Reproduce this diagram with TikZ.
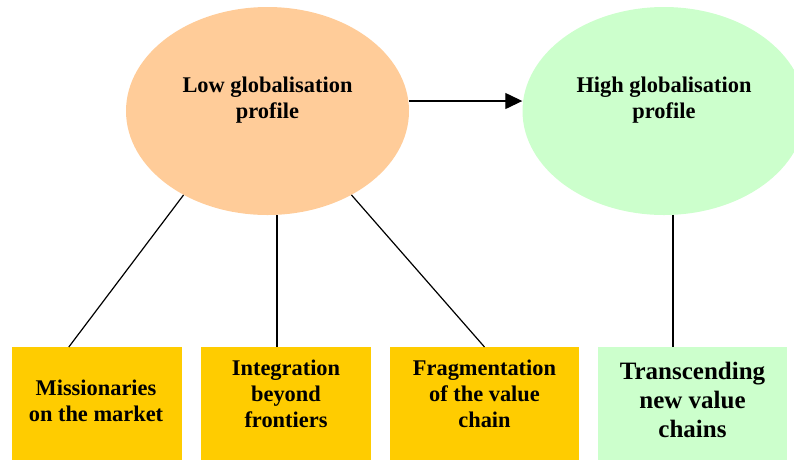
\documentclass[tikz,border=0pt]{standalone}
\usepackage{fontspec}
\setmainfont{Liberation Serif}
\usetikzlibrary{shapes.geometric,arrows.meta}
\definecolor{lowfill}{HTML}{FFCC99}
\definecolor{highfill}{HTML}{CCFFCC}
\definecolor{boxfill}{HTML}{FFCC00}
\begin{document}
\begin{tikzpicture}[x=1pt,y=-1pt,
  profile/.style={ellipse, inner sep=0pt, minimum width=283pt, minimum height=208pt},
  stagebox/.style={rectangle, inner sep=0pt, minimum height=116pt, anchor=north},
  smalltext/.style={font=\fontsize{22.4}{25.8}\selectfont\bfseries, align=center, inner sep=0pt},
  bigtext/.style={font=\fontsize{25}{29}\selectfont\bfseries, align=center, inner sep=0pt},
  link/.style={line width=1.2pt, black}]
\useasboundingbox (0,0) rectangle (794,459);
\clip (0,0) rectangle (794,459);
% profiles
\node[profile, fill=lowfill] (low) at (267.5,111) {};
\node[profile, fill=highfill] (high) at (664,111) {};
\node[smalltext] (lowt) at (267.5,100.5) {Low globalisation\\profile};
\node[smalltext] (hight) at (664,100.5) {High globalisation\\profile};
% boxes
\node[stagebox, fill=boxfill, minimum width=170pt] (b1) at (97,347) {};
\node[stagebox, fill=boxfill, minimum width=170pt] (b2) at (286,347) {};
\node[stagebox, fill=boxfill, minimum width=189pt] (b3) at (484.5,347) {};
\node[stagebox, fill=highfill, minimum width=189pt] (b4) at (692.5,347) {};
\node[smalltext] (t1) at (96,400.5) {Missionaries\\on the market};
\node[smalltext] (t2) at (286,394) {Integration\\beyond\\frontiers};
\node[smalltext] (t3) at (484.5,394) {Fragmentation\\of the value\\chain};
\node[bigtext] (t4) at (692.5,400) {Transcending\\new value\\chains};
% connectors
\draw[link] (low.225) -- ([xshift=57pt]b1.north west);
\draw[link] ([xshift=-9pt]b2.north) -- ([xshift=-9pt]b2.north |- low.south);
\draw[link] (low.315) -- (b3.north);
\draw[link] ([xshift=-19.5pt]b4.north) -- ([xshift=-19.5pt]b4.north |- high.south);
\draw[line width=1.3pt, -{Triangle[length=17pt,width=16pt]}] ([yshift=10pt]low.east) -- ([yshift=10pt]high.west);
\end{tikzpicture}
\end{document}
